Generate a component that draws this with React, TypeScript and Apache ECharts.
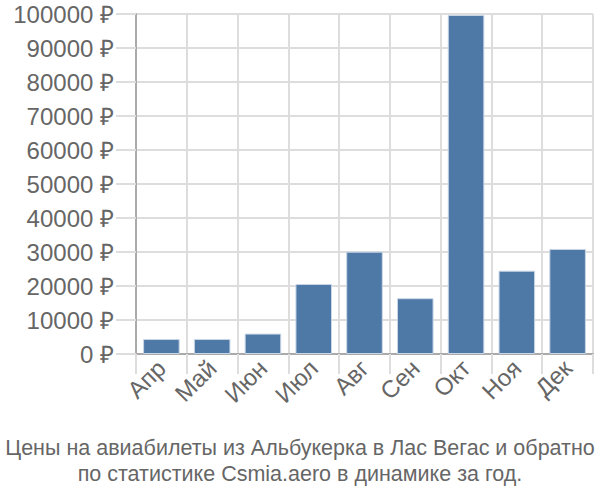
import React, { useEffect, useRef } from "react";
import * as echarts from "echarts";

const categories = ["Апр", "Май", "Июн", "Июл", "Авг", "Сен", "Окт", "Ноя", "Дек"];
const prices = [4400, 4400, 6000, 20600, 30100, 16400, 99700, 24500, 30900];
const titleLines = [
  "Цены на авиабилеты из Альбукерка в Лас Вегас и обратно",
  "по статистике Csmia.aero в динамике за год.",
];

export default function App() {
  const ref = useRef<HTMLDivElement>(null);
  useEffect(() => {
    if (!ref.current) return;
    const chart = echarts.init(ref.current, undefined, { renderer: "svg" });
    chart.setOption({
      animation: false,
      textStyle: { fontFamily: "Liberation Sans" },
      title: {
        text: titleLines.join("\n"),
        left: "center",
        top: 430,
        textStyle: {
          fontFamily: "Liberation Sans",
          fontSize: 21.5,
          fontWeight: "normal",
          color: "#666",
          lineHeight: 26,
        },
      },
      grid: { left: 136, right: 7, top: 14, bottom: 146, containLabel: false },
      xAxis: {
        type: "category",
        data: categories,
        axisLine: { show: true, lineStyle: { color: "#aaa", width: 2 } },
        axisTick: { show: true, length: 20, interval: 0, lineStyle: { color: "#ddd", width: 2 } },
        splitLine: { show: true, interval: 0, lineStyle: { color: "#ddd", width: 2 } },
        axisLabel: {
          rotate: 45,
          interval: 0,
          margin: 10,
          fontSize: 24,
          color: "#666",
          fontFamily: "Liberation Sans",
        },
      },
      yAxis: {
        type: "value",
        min: 0,
        max: 100000,
        interval: 10000,
        axisLine: { show: true, lineStyle: { color: "#aaa", width: 2 } },
        axisTick: { show: true, length: 20, lineStyle: { color: "#ddd", width: 2 } },
        splitLine: { show: true, lineStyle: { color: "#ddd", width: 2 } },
        axisLabel: {
          formatter: (v: number) => v + " ₽",
          fontSize: 24,
          color: "#666",
          margin: 22,
          fontFamily: "Liberation Sans",
        },
      },
      series: [
        {
          type: "bar",
          data: prices,
          barCategoryGap: "28%",
          itemStyle: { color: "#4e78a6", borderColor: "#c8d6e6", borderWidth: 1 },
        },
      ],
    });
    return () => chart.dispose();
  }, []);
  return <div ref={ref} style={{ width: 600, height: 500, position: "absolute", left: 0, top: 0 }} />;
}
